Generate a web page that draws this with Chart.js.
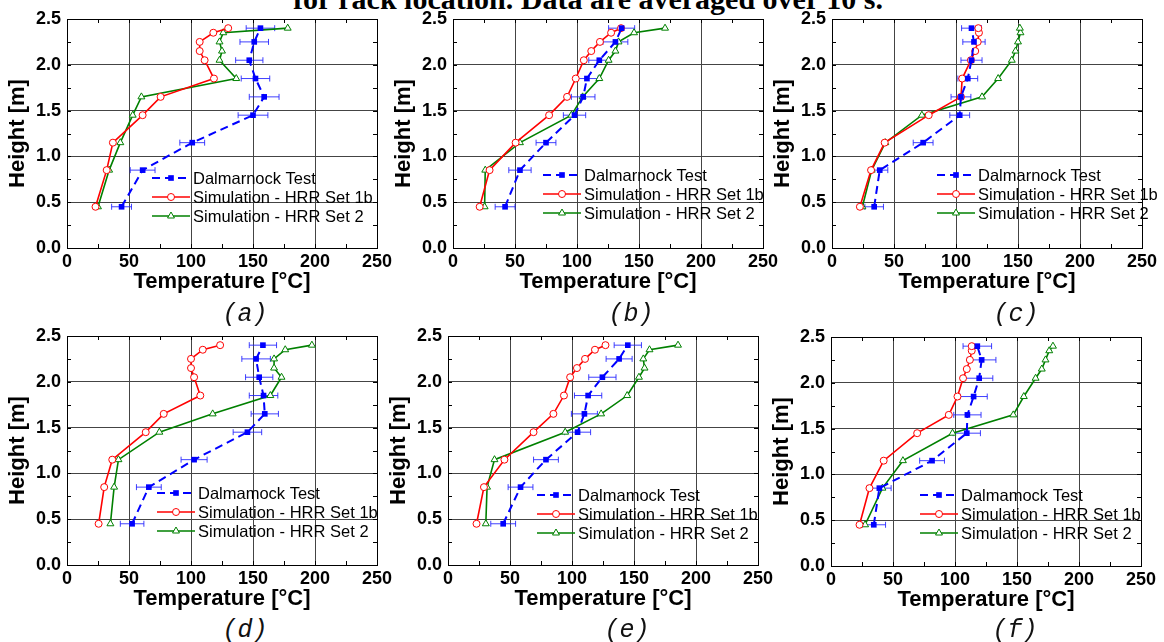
<!DOCTYPE html>
<html>
<head>
<meta charset="utf-8">
<script src="https://cdn.jsdelivr.net/npm/chart.js@4.4.1/dist/chart.umd.min.js"></script>
<style>
  body { margin: 0; background: #fff; width: 1164px; height: 642px; overflow: hidden; position: relative; }
  canvas { position: absolute; }
  #title { position: absolute; left: 293px; top: -18px; line-height: 30px; white-space: nowrap;
           font: bold 30px 'Liberation Serif', 'Times New Roman', serif; color: #000; }
  .lbl { position: absolute; line-height: 24px; transform: translateX(-50%); white-space: nowrap;
         font: italic 25px 'Liberation Mono', 'Courier New', monospace; color: #111; }
</style>
</head>
<body>
<div id="title">for rack location. Data are averaged over 10 s.</div>
<canvas id="pa"></canvas>
<canvas id="pb"></canvas>
<canvas id="pc"></canvas>
<canvas id="pd"></canvas>
<canvas id="pe"></canvas>
<canvas id="pf"></canvas>
<div class="lbl" style="left:245px;top:300px">(a)</div>
<div class="lbl" style="left:631px;top:300px">(b)</div>
<div class="lbl" style="left:1016px;top:300px">(c)</div>
<div class="lbl" style="left:245px;top:616px">(d)</div>
<div class="lbl" style="left:627px;top:616px">(e)</div>
<div class="lbl" style="left:1015px;top:616px">(f)</div>
<script>
// heights [m] of the measurement / output points
var hTest = [0.45, 0.85, 1.15, 1.45, 1.65, 1.85, 2.05, 2.25, 2.40];
var hSim = [0.45, 0.85, 1.15, 1.45, 1.65, 1.85, 2.05, 2.15, 2.25, 2.35, 2.40];

var xTicks = [0, 50, 100, 150, 200, 250];
var yTicks = [0.0, 0.5, 1.0, 1.5, 2.0, 2.5];

// temperatures [°C]
var testA = [44, 61, 101, 150, 159, 152, 147, 151, 156];
var errA = [8, 10, 10, 12, 12, 11.5, 11, 11.5, 11.5];
var set1bA = [23, 32, 37, 61, 75.5, 118.5, 111, 107, 107, 118, 130];
var set2A = [25, 34, 43, 53, 60, 136.5, 123, 125, 123, 126, 178];

var testB = [42, 54, 75, 98, 105, 108, 118, 131, 136];
var errB = [8, 9, 8, 9, 9.5, 9, 8.5, 10, 10.5];
var set1bB = [21.5, 29.5, 50.5, 77.5, 92, 99, 105.5, 111.5, 118.5, 127.5, 135.5];
var set2B = [25.5, 26, 54, 95.5, 104.5, 118, 125.5, 131, 133.5, 146, 171];

var testC = [34, 38.5, 73.5, 103, 104, 109.5, 112.5, 114.5, 112.5];
var errC = [7.5, 6.5, 8, 8, 8, 8, 8.5, 9, 8];
var set1bC = [22.5, 31.5, 42.5, 78, 104, 105, 112, 115.5, 117.5, 118.5, 118];
var set2C = [24.5, 32, 43, 72.5, 121, 134, 145, 148, 150, 152, 151.5];

var testD = [52.5, 66, 102.5, 145.5, 159.5, 158.5, 155, 152.5, 158];
var errD = [9.5, 10, 10.5, 11.5, 11, 11.5, 11, 11.5, 11];
var set1bD = [25.5, 30, 36.5, 63.5, 78, 107.5, 102.5, 100, 100, 109.5, 123.5];
var set2D = [35, 38, 41.5, 74.5, 117.5, 164, 173, 167, 167, 176, 197.5];

var testE = [44.5, 58.5, 79, 104.5, 110, 113, 124.5, 138, 145];
var errE = [10, 10, 10, 10.5, 10.5, 11, 11, 10.5, 11];
var set1bE = [23, 29, 45.5, 69, 85, 93.5, 98.5, 104, 110.5, 118.5, 127];
var set2E = [30.5, 31.5, 37.5, 94.5, 123.5, 144.5, 154, 158.5, 157.5, 162.5, 185.5];

var testF = [34.5, 39, 81.5, 109.5, 110, 115, 119.5, 121.5, 118];
var errF = [9.5, 9.5, 10, 11, 11, 11, 11, 11.5, 11.5];
var set1bF = [23, 31, 42.5, 69.5, 95, 102, 106.5, 109.5, 112, 113.5, 113.5];
var set2F = [27.5, 41.5, 58, 98, 147, 155.5, 165, 170, 173, 176, 179];

var seriesNames = ['Dalmarnock Test', 'Simulation - HRR Set 1b', 'Simulation - HRR Set 2'];
var seriesNamesLow = ['Dalmamock Test', 'Simulation - HRR Set 1b', 'Simulation - HRR Set 2'];

Chart.defaults.font.family = "'Liberation Sans', Arial, sans-serif";
Chart.defaults.color = '#000';

function pts(xs, hs) {
  return xs.map(function(v, i) { return {x: v, y: hs[i]}; });
}

function mark(ctx, style, x, y, r) {
  ctx.beginPath();
  if (style == 'rect') {
    ctx.rect(x - r * 0.707, y - r * 0.707, r * 1.414, r * 1.414);
  } else if (style == 'circle') {
    ctx.arc(x, y, r, 0, Math.PI * 2);
  } else {
    ctx.moveTo(x, y - r);
    ctx.lineTo(x + r * 0.866, y + r * 0.5);
    ctx.lineTo(x - r * 0.866, y + r * 0.5);
    ctx.closePath();
  }
}

// error bars, frame, inward minor ticks and the in-plot legend
var box = {
  id: 'box',
  beforeDatasetsDraw: function(chart) {
    var ctx = chart.ctx, xs = chart.scales.x, ys = chart.scales.y;
    var ds = chart.data.datasets[0];
    ctx.save();
    ctx.strokeStyle = 'rgba(30,30,255,0.85)';
    ctx.lineWidth = 1;
    ds.data.forEach(function(p, i) {
      var e = ds.err[i];
      var x1 = xs.getPixelForValue(p.x - e), x2 = xs.getPixelForValue(p.x + e);
      var y = ys.getPixelForValue(p.y);
      ctx.beginPath();
      ctx.moveTo(x1, y); ctx.lineTo(x2, y);
      ctx.moveTo(x1, y - 3); ctx.lineTo(x1, y + 3);
      ctx.moveTo(x2, y - 3); ctx.lineTo(x2, y + 3);
      ctx.stroke();
    });
    ctx.restore();
  },
  afterDraw: function(chart, args, opts) {
    var ctx = chart.ctx, a = chart.chartArea, xs = chart.scales.x, ys = chart.scales.y;
    ctx.save();
    ctx.strokeStyle = '#000';
    ctx.lineWidth = 1;
    ctx.strokeRect(Math.round(a.left) + 0.5, Math.round(a.top) + 0.5, Math.round(a.right - a.left), Math.round(a.bottom - a.top));
    ctx.beginPath();
    for (var t = 0; t <= 250; t += 25) {
      var px = Math.round(xs.getPixelForValue(t)) + 0.5;
      ctx.moveTo(px, a.bottom); ctx.lineTo(px, a.bottom - 4);
      ctx.moveTo(px, a.top); ctx.lineTo(px, a.top + 4);
    }
    for (var h = 0; h <= 2.5; h += 0.25) {
      var py = Math.round(ys.getPixelForValue(h)) + 0.5;
      ctx.moveTo(a.left, py); ctx.lineTo(a.left + 4, py);
      ctx.moveTo(a.right, py); ctx.lineTo(a.right - 4, py);
    }
    ctx.stroke();

    // legend
    ctx.font = "16.5px 'Liberation Sans', Arial, sans-serif";
    ctx.textBaseline = 'middle';
    ctx.fillStyle = '#000';
    chart.data.datasets.forEach(function(d, i) {
      var x0 = a.left + opts.lx, y = a.top + opts.ly + i * 19;
      ctx.strokeStyle = d.borderColor;
      ctx.lineWidth = d.borderWidth;
      ctx.setLineDash(d.borderDash || []);
      ctx.beginPath();
      ctx.moveTo(x0, y); ctx.lineTo(x0 + 38, y);
      ctx.stroke();
      ctx.setLineDash([]);
      ctx.lineWidth = d.pointBorderWidth || 1;
      mark(ctx, d.pointStyle, x0 + 19, y, d.pointRadius);
      ctx.fillStyle = d.pointBackgroundColor;
      ctx.fill();
      if (d.pointBorderWidth) ctx.stroke();
      ctx.fillStyle = '#000';
      ctx.fillText(d.label, x0 + 41, y + 1);
    });
    ctx.restore();
  }
};

function panel(id, left, top, test, err, s1b, s2, lx, ly, names) {
  var cv = document.getElementById(id);
  cv.width = 396;
  cv.height = 297;
  cv.style.left = (left - 66) + 'px';
  cv.style.top = (top - 19) + 'px';

  return new Chart(cv, {
    type: 'scatter',
    data: {
      datasets: [{
        label: names[0],
        data: pts(test, hTest),
        err: err,
        showLine: true,
        borderColor: '#0000ff',
        borderWidth: 2,
        borderDash: [8, 5],
        pointStyle: 'rect',
        pointRadius: 4,
        pointBorderWidth: 0,
        pointBackgroundColor: '#0000ff'
      }, {
        label: names[1],
        data: pts(s1b, hSim),
        showLine: true,
        borderColor: '#ff0000',
        borderWidth: 1.6,
        pointStyle: 'circle',
        pointRadius: 3.5,
        pointBorderWidth: 1,
        pointBorderColor: '#ff0000',
        pointBackgroundColor: '#ffffff'
      }, {
        label: names[2],
        data: pts(s2, hSim),
        showLine: true,
        borderColor: '#008000',
        borderWidth: 1.6,
        pointStyle: 'triangle',
        pointRadius: 4,
        pointBorderWidth: 1,
        pointBorderColor: '#008000',
        pointBackgroundColor: '#ffffff'
      }]
    },
    options: {
      responsive: false,
      animation: false,
      events: [],
      layout: { padding: { top: 19, right: 20, left: 0, bottom: 0 } },
      plugins: {
        legend: { display: false },
        tooltip: { enabled: false },
        box: { lx: lx, ly: ly }
      },
      scales: {
        x: {
          type: 'linear', min: xTicks[0], max: xTicks[xTicks.length - 1],
          afterBuildTicks: function(s) { s.ticks = xTicks.map(function(v) { return {value: v}; }); },
          ticks: { padding: 3, font: { size: 18, weight: 'bold' }, maxRotation: 0 },
          grid: { color: '#444', drawTicks: false },
          border: { display: false },
          title: { display: true, text: 'Temperature [°C]', font: { size: 22, weight: 'bold' }, padding: { top: 0, bottom: 2 } },
          afterFit: function(s) { s.height = 49; }
        },
        y: {
          type: 'linear', min: yTicks[0], max: yTicks[yTicks.length - 1],
          afterBuildTicks: function(s) { s.ticks = yTicks.map(function(v) { return {value: v}; }); },
          ticks: { padding: 6, font: { size: 18, weight: 'bold' }, callback: function(v) { return Number(v).toFixed(1); } },
          grid: { color: '#444', drawTicks: false },
          border: { display: false },
          title: { display: true, text: 'Height [m]', font: { size: 22, weight: 'bold' }, padding: { top: 4, bottom: 0 } },
          afterFit: function(s) { s.width = 66; }
        }
      }
    },
    plugins: [box]
  });
}

panel('pa', 67, 19, testA, errA, set1bA, set2A, 85, 159, seriesNames);
panel('pb', 453, 19, testB, errB, set1bB, set2B, 90, 156, seriesNames);
panel('pc', 832, 19, testC, errC, set1bC, set2C, 105, 156, seriesNames);
panel('pd', 67, 336, testD, errD, set1bD, set2D, 90, 157, seriesNamesLow);
panel('pe', 448, 336, testE, errE, set1bE, set2E, 89, 159, seriesNamesLow);
panel('pf', 831, 337, testF, errF, set1bF, set2F, 89, 158, seriesNamesLow);
</script>
</body>
</html>
